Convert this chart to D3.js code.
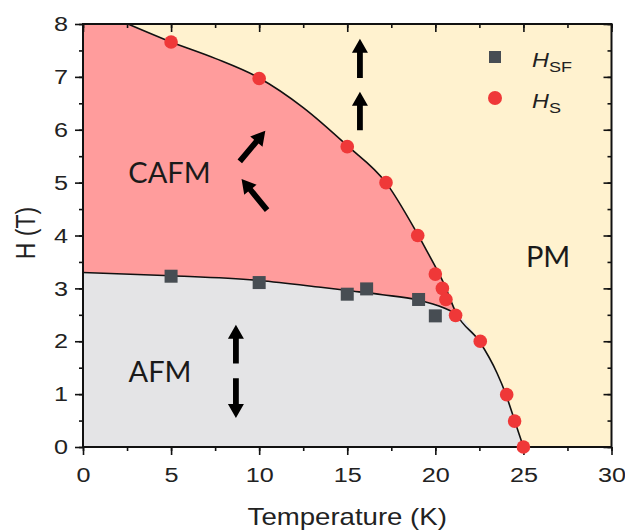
<!DOCTYPE html>
<html>
<head>
<meta charset="utf-8">
<script src="https://cdn.jsdelivr.net/npm/d3@7/dist/d3.min.js"></script>
<style>
  html, body { margin: 0; padding: 0; background: #ffffff; }
  svg { display: block; }
</style>
</head>
<body>
<svg id="chart" width="625" height="530"></svg>
<script>
// ---------------- DATA ----------------
// Saturation field H_S (red circles)
const hsT = [5, 10, 15, 17.2, 19, 20, 20.4, 20.6, 21.15, 22.55, 24.05, 24.5, 25];
const hsH = [7.66, 6.97, 5.68, 5.0, 4.0, 3.27, 3.0, 2.79, 2.49, 2.0, 0.99, 0.49, 0.0];
// Spin-flop field H_SF (dark squares)
const hsfT = [5, 10, 15, 16.1, 19.05, 20];
const hsfH = [3.23, 3.11, 2.89, 2.99, 2.79, 2.48];
// Upper phase boundary (CAFM / PM)
const outerT = [2.55, 5, 7.5, 10, 12.5, 15, 17.2, 19, 19.5, 20.5, 21.2, 22.5, 23.5, 24, 24.5, 25];
const outerH = [8.0, 7.66, 7.35, 6.98, 6.42, 5.7, 5.0, 4.02, 3.72, 3.08, 2.52, 2.0, 1.4, 1.0, 0.5, 0.0];
// Lower phase boundary (AFM / CAFM)
const innerT = [0, 5, 10, 13.5, 15, 17, 19, 20.5, 21.2];
const innerH = [3.30, 3.24, 3.15, 3.02, 2.96, 2.88, 2.78, 2.63, 2.52];
// Axis ticks
const xTicks = [0, 5, 10, 15, 20, 25, 30];
const yTicks = [0, 1, 2, 3, 4, 5, 6, 7, 8];
// Phase labels
const phaseNames = ["CAFM", "AFM", "PM"];
const phaseT = [4.91, 4.37, 26.4];
const phaseH = [4.99, 1.22, 3.41];
// Spin arrows [T0, H0, T1, H1]
const arrowT0 = [15.72, 15.72, 8.9, 10.45, 8.68, 8.68];
const arrowH0 = [6.98, 5.99, 5.40, 4.48, 1.58, 1.30];
const arrowT1 = [15.72, 15.72, 10.35, 9.0, 8.68, 8.68];
const arrowH1 = [7.72, 6.72, 5.98, 5.07, 2.31, 0.55];
// Legend
const legendLabels = ["SF", "S"];

// ---------------- LAYOUT ----------------
const svg = d3.select("#chart");
const mL = 83, mR = 611.5, mT = 24, mB = 447;
const SX = 1.2; // horizontal stretch of the Arial-type text in the reference
const x = d3.scaleLinear().domain([0, 30]).range([mL, mR]);
const y = d3.scaleLinear().domain([0, 8]).range([mB, mT]);

const colPM = "#fff2cf", colCAFM = "#ff9c9c", colAFM = "#e4e4e6";
const colRed = "#ef3838", colSq = "#474d53";

// PM background
svg.append("rect").attr("x", x(0)).attr("y", y(8))
  .attr("width", x(30) - x(0)).attr("height", y(0) - y(8)).attr("fill", colPM);

const outer = outerT.map((t, i) => [t, outerH[i]]);
const inner = innerT.map((t, i) => [t, innerH[i]]);
const line = d3.line().x(d => x(d[0])).y(d => y(d[1])).curve(d3.curveMonotoneX);

// CAFM region
const outerPath = line(outer);
svg.append("path")
  .attr("d", `M${x(0)},${y(0)}L${x(0)},${y(8)}L${outerPath.slice(1)}Z`)
  .attr("fill", colCAFM);

// AFM region: inner boundary then the outer boundary down to T_N
const afmPts = inner.concat(outer.filter(d => d[0] > innerT[innerT.length - 1]));
const afmPath = line(afmPts);
svg.append("path")
  .attr("d", `M${x(0)},${y(0)}L${afmPath.slice(1)}Z`)
  .attr("fill", colAFM);

// boundary lines
svg.append("path").attr("d", outerPath).attr("fill", "none")
  .attr("stroke", "#111").attr("stroke-width", 1.6);
svg.append("path").attr("d", line(inner)).attr("fill", "none")
  .attr("stroke", "#111").attr("stroke-width", 1.6);

// ---------------- AXES ----------------
const fontAxis = "'Liberation Sans', Arial, sans-serif";
const xMinor = d3.range(0, 30.01, 2.5);
const yMinor = d3.range(0, 8.01, 0.5);

function styleAxis(g) {
  g.select(".domain").remove();
  g.selectAll("line").attr("stroke", "#111").attr("stroke-width", 1.6);
}
function stretchText(g) {
  g.selectAll("text").each(function () {
    const t = d3.select(this);
    const xv = +t.attr("x") || 0;
    t.attr("x", xv / SX).attr("transform", `scale(${SX},1)`)
      .attr("font-family", fontAxis).attr("font-size", 21).attr("fill", "#222");
  });
}
// bottom
svg.append("g").attr("transform", `translate(0,${mB})`)
  .call(d3.axisBottom(x).tickValues(xMinor).tickSize(4).tickFormat(""))
  .call(styleAxis);
svg.append("g").attr("transform", `translate(0,${mB})`)
  .call(d3.axisBottom(x).tickValues(xTicks).tickSize(8).tickPadding(12).tickFormat(d3.format("d")))
  .call(styleAxis).call(stretchText);
// left
svg.append("g").attr("transform", `translate(${mL},0)`)
  .call(d3.axisLeft(y).tickValues(yMinor).tickSize(4).tickFormat(""))
  .call(styleAxis);
svg.append("g").attr("transform", `translate(${mL},0)`)
  .call(d3.axisLeft(y).tickValues(yTicks).tickSize(8).tickPadding(7).tickFormat(d3.format("d")))
  .call(styleAxis).call(stretchText);
// top (inward)
svg.append("g").attr("transform", `translate(0,${mT})`)
  .call(d3.axisBottom(x).tickValues(xMinor).tickSize(4).tickFormat(""))
  .call(styleAxis);
svg.append("g").attr("transform", `translate(0,${mT})`)
  .call(d3.axisBottom(x).tickValues(xTicks).tickSize(8).tickFormat(""))
  .call(styleAxis);
// right (inward)
svg.append("g").attr("transform", `translate(${mR},0)`)
  .call(d3.axisLeft(y).tickValues(yMinor).tickSize(4).tickFormat(""))
  .call(styleAxis);
svg.append("g").attr("transform", `translate(${mR},0)`)
  .call(d3.axisLeft(y).tickValues(yTicks).tickSize(8).tickFormat(""))
  .call(styleAxis);
// frame
svg.append("rect").attr("x", mL).attr("y", mT)
  .attr("width", mR - mL).attr("height", mB - mT)
  .attr("fill", "none").attr("stroke", "#111").attr("stroke-width", 2);

// axis titles
svg.append("text").attr("transform", `translate(${(mL + mR) / 2},525) scale(${SX},1)`)
  .attr("text-anchor", "middle").attr("font-family", fontAxis).attr("font-size", 23)
  .attr("fill", "#222").text("Temperature (K)");
svg.append("text").attr("transform", `translate(35,233) scale(${SX},1) rotate(-90)`)
  .attr("text-anchor", "middle").attr("font-family", fontAxis).attr("font-size", 23)
  .attr("fill", "#222").text("H (T)");

// ---------------- MARKS ----------------
svg.append("g").selectAll("rect").data(hsfT.map((t, i) => [t, hsfH[i]])).join("rect")
  .attr("x", d => x(d[0]) - 6.5).attr("y", d => y(d[1]) - 6.5)
  .attr("width", 13).attr("height", 13).attr("fill", colSq);
svg.append("g").selectAll("circle").data(hsT.map((t, i) => [t, hsH[i]])).join("circle")
  .attr("cx", d => x(d[0])).attr("cy", d => y(d[1])).attr("r", 6.8).attr("fill", colRed);

// phase labels
const fontLabel = "Lato, 'Open Sans', sans-serif";
svg.append("g").selectAll("text").data(phaseNames).join("text")
  .attr("x", (d, i) => x(phaseT[i])).attr("y", (d, i) => y(phaseH[i]))
  .attr("text-anchor", "middle").attr("font-family", fontLabel).attr("font-size", 29)
  .attr("fill", "#1a1a1a").text(d => d);

// arrows
function arrowPath(x0, y0, x1, y1) {
  const dx = x1 - x0, dy = y1 - y0, L = Math.hypot(dx, dy);
  const ux = dx / L, uy = dy / L, px = -uy, py = ux;
  const hl = 14, hw = 8, sw = 2.9;
  const bx = x1 - ux * hl, by = y1 - uy * hl;
  const p = [
    [x0 + px * sw, y0 + py * sw], [bx + px * sw, by + py * sw], [bx + px * hw, by + py * hw],
    [x1, y1], [bx - px * hw, by - py * hw], [bx - px * sw, by - py * sw], [x0 - px * sw, y0 - py * sw]
  ];
  return "M" + p.map(q => q.join(",")).join("L") + "Z";
}
svg.append("g").selectAll("path").data(arrowT0).join("path")
  .attr("d", (d, i) => arrowPath(x(arrowT0[i]), y(arrowH0[i]), x(arrowT1[i]), y(arrowH1[i])))
  .attr("fill", "#000");

// legend
const leg = svg.append("g");
leg.append("rect").attr("x", 495 - 6).attr("y", 57 - 6).attr("width", 12).attr("height", 12).attr("fill", colSq);
leg.append("circle").attr("cx", 495).attr("cy", 98).attr("r", 7).attr("fill", colRed);
legendLabels.forEach((s, i) => {
  const t = leg.append("text").attr("transform", `translate(532,${67 + i * 41}) scale(${SX},1)`)
    .attr("font-family", fontAxis).attr("font-size", 19.5).attr("fill", "#222");
  t.append("tspan").attr("font-style", "italic").text("H");
  t.append("tspan").attr("font-size", 15).attr("dy", 5).text(s);
});
</script>
</body>
</html>
